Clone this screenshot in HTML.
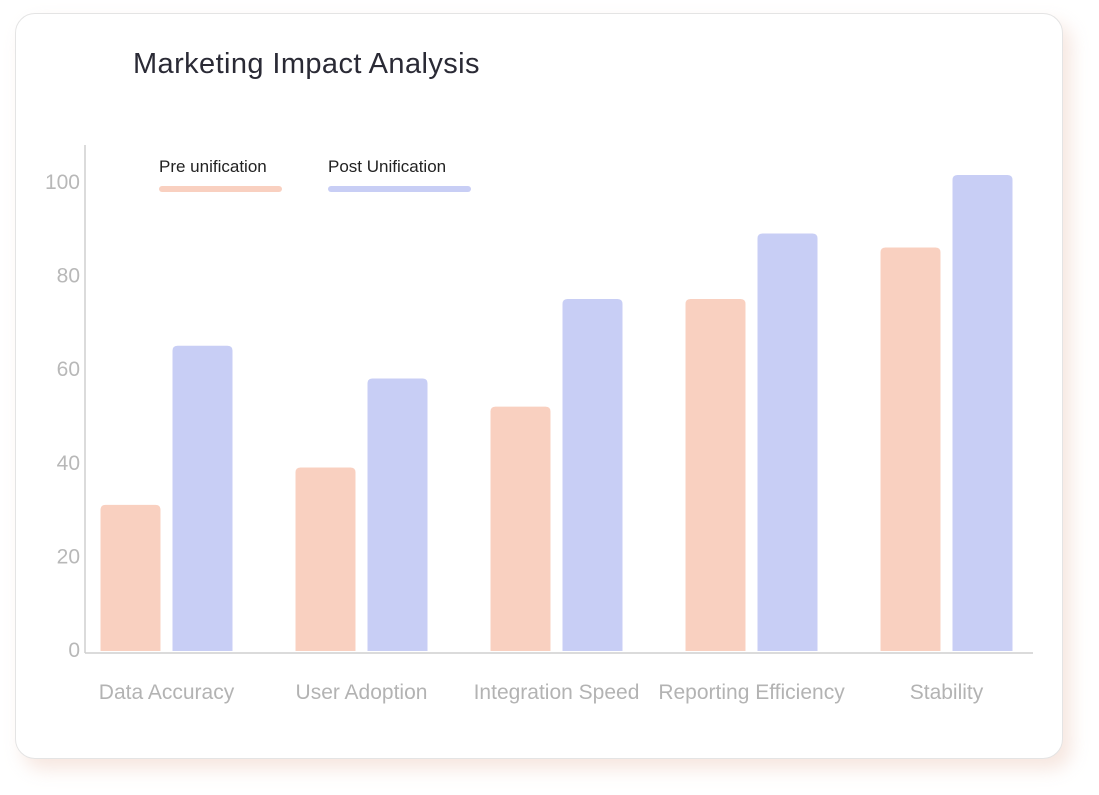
<!DOCTYPE html>
<html><head><meta charset="utf-8"><style>
body{margin:0;background:#fff;width:1099px;height:795px;overflow:hidden;font-family:"Liberation Sans",sans-serif}
#card{position:absolute;left:15px;top:13px;width:1046px;height:744px;border:1px solid #e4e4e4;border-radius:20px;background:#fff;box-shadow:8px 10px 18px rgba(235,200,185,0.45)}
#title{position:absolute;left:133px;top:48px;font-size:29px;letter-spacing:0.4px;color:#2a2a35}
svg{position:absolute;left:0;top:0}
</style></head><body>
<div id="card"></div>
<div id="title">Marketing Impact Analysis</div>
<svg id="chart" width="1099" height="795"></svg>
<script>
const categories=["Data Accuracy","User Adoption","Integration Speed","Reporting Efficiency","Stability"];
const preValues=[31,39,52,75,86];
const postValues=[65,58,75,89,101.5];
const yTicks=[0,20,40,60,80,100];
const seriesNames=["Pre unification","Post Unification"];
const NS="http://www.w3.org/2000/svg";
const svg=document.getElementById("chart");
const y0=650,pxPer=4.68;
const y=v=>y0-v*pxPer;
const bandL=69,bandW=195,barW=60,gap=12;
const cx=i=>bandL+bandW*(i+0.5);
function mk(t,a){const e=document.createElementNS(NS,t);for(const k in a)e.setAttribute(k,a[k]);svg.appendChild(e);return e;}
function barPath(x,top,w,bot){const r=5;return `M${x},${bot}V${top+r}Q${x},${top} ${x+r},${top}H${x+w-r}Q${x+w},${top} ${x+w},${top+r}V${bot}Z`;}
let e;
e=mk("line",{x1:85,y1:145,x2:85,y2:653,stroke:"#cfcfcf","stroke-width":1.5});


e=mk("line",{x1:85,y1:653,x2:1033,y2:653,stroke:"#cfcfcf","stroke-width":1.5});


yTicks.forEach(t=>{
 const tx=mk("text",{x:80,y:y(t)+7,"text-anchor":"end","font-size":21,fill:"#b8b8b8"});tx.textContent=t;
 
 
});
categories.forEach((c,i)=>{
 const c0=cx(i);
 const p=mk("path",{d:barPath(c0-gap/2-barW,y(preValues[i]),barW,651),fill:"#f9d0c0"});
 
 
 const q=mk("path",{d:barPath(c0+gap/2,y(postValues[i]),barW,651),fill:"#c8cef5"});
 
 
 const t=mk("text",{x:c0,y:699,"text-anchor":"middle","font-size":21,fill:"#b3b3b3"});t.textContent=c;
 
 
});
const legX=[159,328],legW=[123,143],legC=["#f9d0c0","#c8cef5"];
seriesNames.forEach((n,i)=>{
 const t=mk("text",{x:legX[i],y:172,"font-size":17,fill:"#222"});t.textContent=n;
 
 
 const l=mk("line",{x1:legX[i]+3,y1:189,x2:legX[i]+legW[i]-3,y2:189,stroke:legC[i],"stroke-width":6,"stroke-linecap":"round"});
 
 
});
</script>
</body></html>
